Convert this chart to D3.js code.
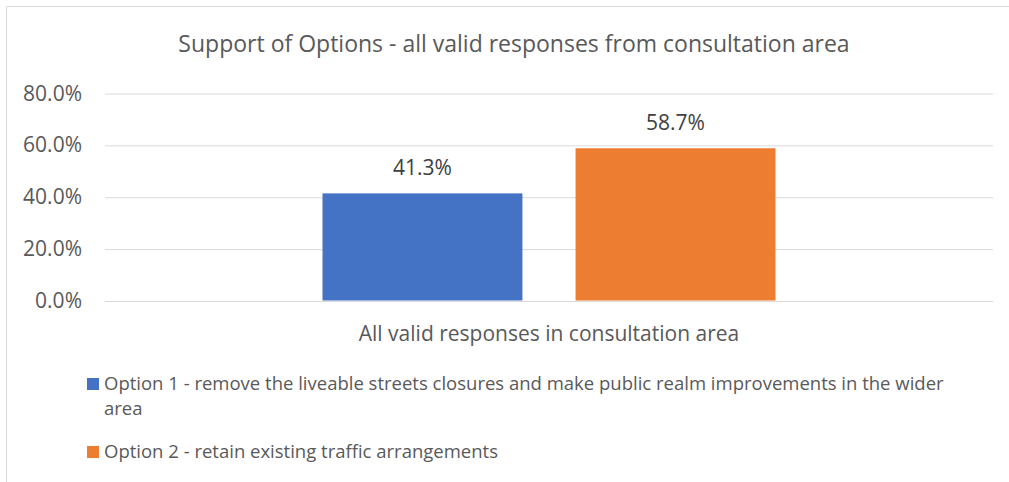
<!DOCTYPE html>
<html lang="en">
<head>
<meta charset="utf-8">
<title>Support of Options</title>
<script src="https://d3js.org/d3.v7.min.js"></script>
<style type="text/css">
    body { margin: 0; background: #fff; }
    svg text {
        font-family: "Open Sans", "Noto Sans", sans-serif;
        fill: #595959;
    }
    svg text.val { fill: #404040; }
    .grid line { stroke: #d9d9d9; stroke-width: 1; }
    .grid path { display: none; }
</style>
</head>
<body>
<script>
// chart data
var categories = ["All valid responses in consultation area"];
var seriesNames = [
    "Option 1 - remove the liveable streets closures and make public realm improvements in the wider area",
    "Option 2 - retain existing traffic arrangements"
];
var seriesValues = [0.413, 0.587];
var seriesColors = ["#4472C4", "#ED7D31"];
var yTicks = [0, 0.2, 0.4, 0.6, 0.8];
var title = "Support of Options - all valid responses from consultation area";

var width = 1009, height = 482;
var plotLeft = 105, plotRight = 993, plotTop = 93, plotBottom = 300.5;

var svg = d3.select("body")
    .append("svg")
    .attr("width", width)
    .attr("height", height);

// chart frame (only left and top edges are visible in the crop)
svg.append("path")
    .attr("d", "M6.5," + height + "V6.5H" + width)
    .attr("fill", "none")
    .attr("stroke", "#d9d9d9")
    .attr("stroke-width", 1);

var y = d3.scaleLinear().domain([0, 0.8]).range([plotBottom, plotTop]);
var x0 = d3.scaleBand().domain(categories).range([plotLeft, plotRight]);
var x1 = d3.scaleBand().domain(seriesNames).paddingInner(0.21);

// gridlines
svg.append("g")
    .attr("class", "grid")
    .attr("transform", "translate(" + plotLeft + ",0)")
    .call(d3.axisLeft(y).tickValues(yTicks).tickSize(-(plotRight - plotLeft)).tickFormat(""))
    .selectAll("line")
    .attr("transform", "translate(0,0.5)");

// y tick labels
svg.append("g")
    .selectAll("text")
    .data(yTicks)
    .enter()
    .append("text")
    .attr("x", 82)
    .attr("y", function (d) { return y(d); })
    .attr("dy", "0.36em")
    .attr("text-anchor", "end")
    .style("font-size", "21px")
    .text(d3.format(".1%"));

// title
svg.append("text")
    .attr("x", 514)
    .attr("y", 52)
    .attr("text-anchor", "middle")
    .style("font-size", "23px")
    .text(title);

// bars
categories.forEach(function (cat) {
    var cx = x0(cat) + x0.bandwidth() / 2;
    x1.range([cx - 226.5, cx + 226.5]);
    var g = svg.append("g");
    g.selectAll("rect")
        .data(seriesValues)
        .enter()
        .append("rect")
        .attr("x", function (d, i) { return x1(seriesNames[i]); })
        .attr("width", x1.bandwidth())
        .attr("y", function (d) { return y(d); })
        .attr("height", function (d) { return y(0) - y(d); })
        .attr("fill", function (d, i) { return seriesColors[i]; });

    g.selectAll("text.val")
        .data(seriesValues)
        .enter()
        .append("text")
        .attr("class", "val")
        .attr("x", function (d, i) { return x1(seriesNames[i]) + x1.bandwidth() / 2; })
        .attr("y", function (d) { return y(d) - 18.5; })
        .attr("text-anchor", "middle")
        .style("font-size", "21px")
        .text(d3.format(".1%"));

    svg.append("text")
        .attr("x", cx)
        .attr("y", 341)
        .attr("text-anchor", "middle")
        .style("font-size", "21px")
        .text(cat);
});

// legend
var legendTops = [378, 446];
var maxLegendWidth = 870;
seriesNames.forEach(function (name, i) {
    var g = svg.append("g");
    g.append("rect")
        .attr("x", 87)
        .attr("y", legendTops[i])
        .attr("width", 12)
        .attr("height", 12)
        .attr("fill", seriesColors[i]);
    var t = g.append("text")
        .attr("x", 104)
        .attr("y", legendTops[i] + 12)
        .style("font-size", "18.5px");
    // wrap words
    var words = name.split(" ");
    var line = [];
    var tspan = t.append("tspan").attr("x", 104);
    words.forEach(function (w) {
        line.push(w);
        tspan.text(line.join(" "));
        if (tspan.node().getComputedTextLength() > maxLegendWidth && line.length > 1) {
            line.pop();
            tspan.text(line.join(" "));
            line = [w];
            tspan = t.append("tspan").attr("x", 104).attr("dy", "25px").text(w);
        }
    });
});
</script>
</body>
</html>
